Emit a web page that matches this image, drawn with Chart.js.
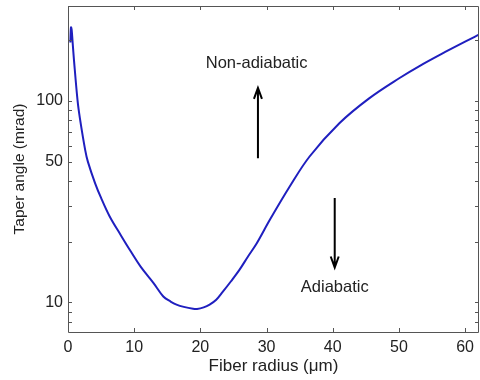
<!DOCTYPE html>
<html>
<head>
<meta charset="utf-8">
<script src="https://cdn.jsdelivr.net/npm/chart.js@4.4.1/dist/chart.umd.min.js"></script>
<style>
  html, body { margin: 0; padding: 0; background: #fff; overflow: hidden; }
  #wrap { width: 480px; height: 380px; }
</style>
</head>
<body>
<div id="wrap"><canvas id="c" width="480" height="380"></canvas></div>
<script>
// ---- data ----
const fiberRadius = [0.35, 0.45, 0.55, 0.7, 0.9, 1.45, 1.8, 2.6, 3.0, 4.1, 5.0, 6.3, 8.0, 9.35, 11.0, 12.9, 14.4, 15.5, 16.4, 17.5, 18.9, 19.5, 20.5, 21.4, 22.4, 23.4, 24.6, 25.9, 27.2, 28.5, 30.5, 33.5, 36.5, 41.0, 45.5, 50.1, 53.1, 57.0, 60.0, 62.2];
const taperAngle  = [195, 232, 226, 195, 160, 100, 82, 57, 50, 39, 33, 26.7, 21.5, 18.2, 15.0, 12.5, 10.7, 10.1, 9.75, 9.5, 9.3, 9.28, 9.45, 9.75, 10.3, 11.3, 12.7, 14.5, 16.9, 19.6, 25.7, 37.6, 53, 77.5, 103, 130, 149, 175, 197, 214];
const xTicks = [0, 10, 20, 30, 40, 50, 60];
const yMajorTicks = [10, 50, 100];
const yMinorTicks = [8, 9, 20, 30, 40, 60, 70, 80, 90, 200];
const labels = [
  { text: 'Non-adiabatic', x: 28.5, y: 154 },
  { text: 'Adiabatic', x: 40.3, y: 11.9 }
];
const arrows = [
  { x: 28.7, from: 52, to: 116 },
  { x: 40.3, from: 33, to: 14.9 }
];

const FONT = 'Liberation Sans, Arial, Helvetica, sans-serif';
const AXIS_COLOR = '#555';
const TEXT_COLOR = '#222';

const framePlugin = {
  id: 'frame',
  afterDatasetsDraw(chart) {
    const ctx = chart.ctx;
    const { left, right, top, bottom } = chart.chartArea;
    const xs = chart.scales.x, ys = chart.scales.y;
    ctx.save();
    ctx.strokeStyle = AXIS_COLOR;
    ctx.lineWidth = 1;
    ctx.beginPath();
    ctx.rect(Math.round(left) + 0.5, Math.round(top) + 0.5, Math.round(right - left) - 1, Math.round(bottom - top));
    ctx.stroke();
    const tl = 4;
    ctx.beginPath();
    xTicks.forEach(v => {
      const px = Math.round(xs.getPixelForValue(v)) + 0.5;
      ctx.moveTo(px, bottom); ctx.lineTo(px, bottom - tl);
      ctx.moveTo(px, top); ctx.lineTo(px, top + tl);
    });
    yMajorTicks.concat(yMinorTicks).forEach(v => {
      const py = ys.getPixelForValue(v);
      if (py < top || py > bottom) return;
      const p = Math.round(py) + 0.5;
      ctx.moveTo(left, p); ctx.lineTo(left + tl, p);
      ctx.moveTo(right, p); ctx.lineTo(right - tl, p);
    });
    ctx.stroke();

    // annotations
    ctx.fillStyle = TEXT_COLOR;
    ctx.font = '16.5px ' + FONT;
    ctx.textAlign = 'center';
    ctx.textBaseline = 'middle';
    labels.forEach(l => ctx.fillText(l.text, xs.getPixelForValue(l.x), ys.getPixelForValue(l.y)));
    ctx.strokeStyle = '#000';
    ctx.lineWidth = 2;
    arrows.forEach(a => {
      const px = xs.getPixelForValue(a.x);
      const y0 = ys.getPixelForValue(a.from), y1 = ys.getPixelForValue(a.to);
      const dir = y1 < y0 ? 1 : -1;
      ctx.beginPath();
      ctx.moveTo(px, y0); ctx.lineTo(px, y1);
      ctx.moveTo(px - 4, y1 + dir * 11); ctx.lineTo(px, y1); ctx.lineTo(px + 4, y1 + dir * 11);
      ctx.stroke();
    });
    ctx.restore();
  }
};

new Chart(document.getElementById('c'), {
  type: 'line',
  data: {
    datasets: [{
      data: fiberRadius.map((x, i) => ({ x, y: taperAngle[i] })),
      borderColor: '#1f1fbf',
      borderWidth: 2,
      pointRadius: 0,
      tension: 0.35,
      fill: false
    }]
  },
  options: {
    responsive: false,
    animation: false,
    layout: { padding: { top: 6, right: 1, left: 0, bottom: 0 } },
    plugins: { legend: { display: false }, tooltip: { enabled: false } },
    scales: {
      x: {
        type: 'linear', min: 0, max: 62.1,
        afterBuildTicks: s => { s.ticks = xTicks.map(v => ({ value: v })); },
        afterFit: s => { s.height = 48; s.paddingLeft = 0; s.paddingRight = 0; },
        grid: { display: false, drawTicks: false },
        border: { display: false },
        ticks: { color: TEXT_COLOR, font: { family: FONT, size: 16 }, padding: 6, maxRotation: 0 },
        title: { display: true, text: 'Fiber radius (μm)', color: TEXT_COLOR, font: { family: FONT, size: 17 }, padding: { top: 0, bottom: 3 } }
      },
      y: {
        type: 'logarithmic', min: 7.13, max: 296,
        afterBuildTicks: s => { s.ticks = yMajorTicks.map(v => ({ value: v })); },
        afterFit: s => { s.width = 68; s.paddingTop = 0; s.paddingBottom = 0; },
        grid: { display: false, drawTicks: false },
        border: { display: false },
        ticks: { color: TEXT_COLOR, font: { family: FONT, size: 16 }, padding: 5, callback: v => String(v) },
        title: { display: true, text: 'Taper angle (mrad)', color: TEXT_COLOR, font: { family: FONT, size: 15.5 }, padding: { top: 10, bottom: 4 } }
      }
    }
  },
  plugins: [framePlugin]
});
</script>
</body>
</html>
